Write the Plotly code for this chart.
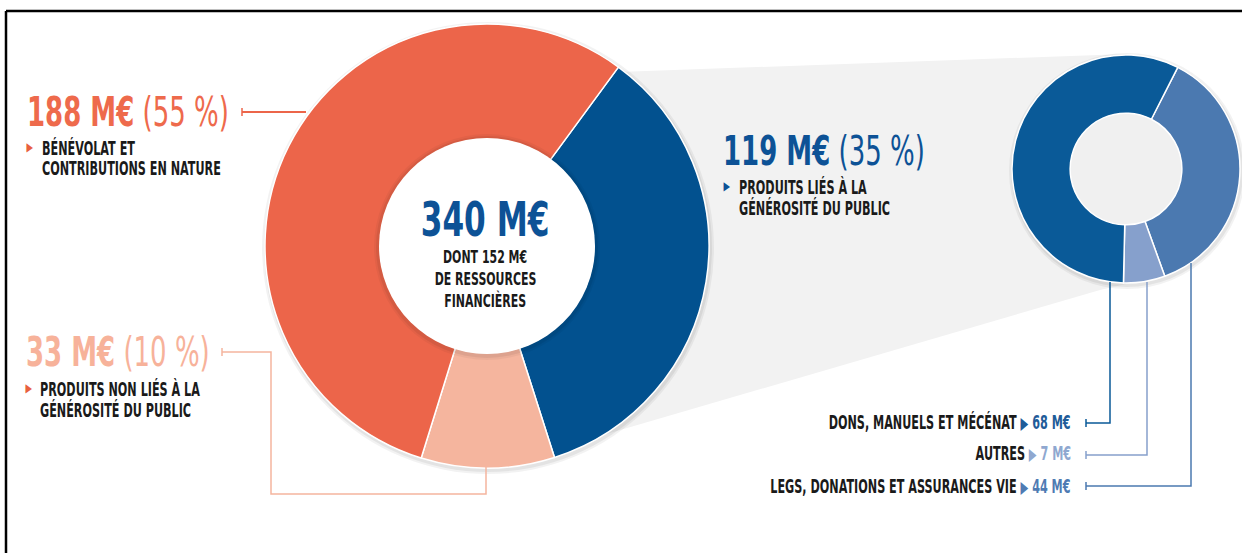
import plotly.graph_objects as go

# ---- data ----
main_labels = ["Produits liés à la générosité du public", "Produits non liés à la générosité du public", "Bénévolat et contributions en nature"]
main_values = [119, 33, 188]
main_pcts = [35, 10, 55]
main_colors = ["#02518F", "#F5B59E", "#EC654A"]
main_desc = [["PRODUITS LIÉS À LA", "GÉNÉROSITÉ DU PUBLIC"],
             ["PRODUITS NON LIÉS À LA", "GÉNÉROSITÉ DU PUBLIC"],
             ["BÉNÉVOLAT ET", "CONTRIBUTIONS EN NATURE"]]
total_label = "340 M€"
total_sub = ["DONT 152 M€", "DE RESSOURCES", "FINANCIÈRES"]

sub_labels = ["LEGS, DONATIONS ET ASSURANCES VIE", "AUTRES", "DONS, MANUELS ET MÉCÉNAT"]
sub_values = [44, 7, 68]
sub_colors = ["#4B79B0", "#86A0CC", "#0A5A98"]

W, H = 1242, 553
FONT = "DejaVu Sans, sans-serif"

def dom(cx, cy, r):
    return dict(x=[(cx - r) / W, (cx + r) / W], y=[(H - cy - r) / H, (H - cy + r) / H])

fig = go.Figure()

BC = (487, 246); BR = 222
SC = (1126, 169); SR = 114

fig.add_trace(go.Pie(
    values=main_values, labels=main_labels, sort=False, direction="clockwise",
    rotation=36.3, hole=0.48, textinfo="none", hoverinfo="label+value",
    marker=dict(colors=main_colors, line=dict(color="white", width=1.5)),
    domain=dom(*BC, BR), showlegend=False))

fig.add_trace(go.Pie(
    values=sub_values, labels=sub_labels, sort=False, direction="clockwise",
    rotation=27, hole=0.49, textinfo="none", hoverinfo="label+value",
    marker=dict(colors=sub_colors, line=dict(color="white", width=1.5)),
    domain=dom(*SC, SR), showlegend=False))

shapes = []
# frame
shapes.append(dict(type="line", x0=6, y0=11, x1=W, y1=11, line=dict(color="black", width=2.5), layer="below"))
shapes.append(dict(type="line", x0=6, y0=11, x1=6, y1=H, line=dict(color="black", width=2.5), layer="below"))
# grey funnel
shapes.append(dict(type="path", path="M 618 72 L 1126 54 L 1200 120 L 1126 284 L 1100 290 L 545 452 L 680 260 Z",
                   fillcolor="#F2F2F2", line=dict(width=0), layer="below"))
# donut shadows
for cx, cy, r, a in [(BC[0] + 1, BC[1] + 2, BR + 4, 0.05), (BC[0] + 1, BC[1] + 2, BR + 2, 0.06),
                     (SC[0] + 1, SC[1] + 2, SR + 4, 0.05), (SC[0] + 1, SC[1] + 2, SR + 2, 0.06)]:
    shapes.append(dict(type="circle", x0=cx - r, x1=cx + r, y0=cy - r, y1=cy + r,
                       fillcolor=f"rgba(0,0,0,{a})", line=dict(width=0), layer="below"))
# small donut hole
shapes.append(dict(type="circle", x0=SC[0] - 57, x1=SC[0] + 57, y0=SC[1] - 57, y1=SC[1] + 57,
                   fillcolor="#F0F0F0", line=dict(width=0), layer="below"))
# center white disc with soft shadow
for r, a in [(113, 0.04), (111, 0.06)]:
    shapes.append(dict(type="circle", x0=BC[0] - r, x1=BC[0] + r, y0=BC[1] - r + 1, y1=BC[1] + r + 1,
                       fillcolor=f"rgba(0,0,0,{a})", line=dict(width=0), layer="above"))
shapes.append(dict(type="circle", x0=BC[0] - 108, x1=BC[0] + 108, y0=BC[1] - 108, y1=BC[1] + 108,
                   fillcolor="white", line=dict(width=0), layer="above"))

def poly(pts, color, width=1.5):
    d = "M " + " L ".join(f"{x} {y}" for x, y in pts)
    shapes.append(dict(type="path", path=d, line=dict(color=color, width=width), layer="above"))

def tick(x, y, color):
    shapes.append(dict(type="line", x0=x, x1=x, y0=y - 4, y1=y + 4, line=dict(color=color, width=1.5), layer="above"))

# connectors
poly([(242, 112), (306, 112)], main_colors[2], 2)
tick(242, 112, main_colors[2])
poly([(222, 352), (271, 352), (271, 494), (486, 494), (486, 467)], "#F5B59E", 1.5)
tick(222, 352, "#F5B59E")
poly([(1086, 423), (1110, 423), (1110, 282)], sub_colors[2])
tick(1086, 423, sub_colors[2])
poly([(1086, 455), (1147, 455), (1147, 282)], sub_colors[1])
tick(1086, 455, sub_colors[1])
poly([(1086, 486), (1191, 486), (1191, 263)], sub_colors[0])
tick(1086, 486, sub_colors[0])

ann = []
def txt(x, y, s, size, color="#1A1A1A", xa="left", align="left", ya="middle"):
    ann.append(dict(x=x, y=y, xref="x", yref="y", text=s, showarrow=False, xanchor=xa, yanchor=ya,
                    align=align, font=dict(family=FONT, size=size, color=color)))

big_cols = ["#0D5296", "#F7B29A", "#EE6A4C"]
# (x of number, y of number, x of triangle, y triangle, x text, y line1, y line2)
pos = [(721, 151, 727, 186, 737, 187, 208),
       (24, 352, 29, 388, 38, 389, 410),
       (25, 112, 30, 147, 40, 148, 168)]
tri_cols = ["#0D5296", "#E8603E", "#E8603E"]
for i in range(3):
    nx, ny, tx, ty, lx, l1, l2 = pos[i]
    txt(nx, ny, f"<b>{main_values[i]} M€</b> ({main_pcts[i]} %)", 40, big_cols[i])
    txt(tx, ty, "▶", 12, tri_cols[i], xa="center", align="center")
    txt(lx, l1, f"<b>{main_desc[i][0]}</b>", 19)
    txt(lx, l2, f"<b>{main_desc[i][1]}</b>", 19)

txt(485, 219, f"<b>{total_label}</b>", 48, "#0D5296", xa="center", align="center")
for s, y in zip(total_sub, [256, 278, 300]):
    txt(485, y, f"<b>{s}</b>", 18, xa="center", align="center")

sub_txt_cols = ["#4F7BB3", "#8FA8D0", "#1F5C99"]
rows_y = [486, 453, 422]
for lab, v, c, y in zip(sub_labels, sub_values, sub_txt_cols, rows_y):
    txt(1073, y, f"<b>{lab}<span style='color:{c}'> <span style='font-size:17px'>▶</span> {v} M€</span></b>",
        19, xa="right", align="right")

fig.update_layout(
    width=W, height=H, margin=dict(l=0, r=0, t=0, b=0),
    paper_bgcolor="white", plot_bgcolor="white",
    xaxis=dict(range=[0, W], visible=False, fixedrange=True),
    yaxis=dict(range=[H, 0], visible=False, fixedrange=True),
    shapes=shapes, annotations=ann, showlegend=False,
)

# condensed typography (the reference uses a narrow display face)
post = """
document.body.style.margin='0px';
var sc={40:0.65,48:0.65,19:0.59,18:0.61,12:0.7};
document.querySelectorAll('text.annotation-text').forEach(function(t){
  var fs=Math.round(parseFloat(t.style.fontSize));
  var s=sc[fs]||0.62;
  var a=t.getAttribute('text-anchor');
  t.style.transformBox='fill-box';
  t.style.transformOrigin=(a==='start'?'left':(a==='end'?'right':'center'))+' center';
  t.style.transform='scaleX('+s+')';
});
"""
fig.write_html("out.html", post_script=post, config={"displayModeBar": False})
